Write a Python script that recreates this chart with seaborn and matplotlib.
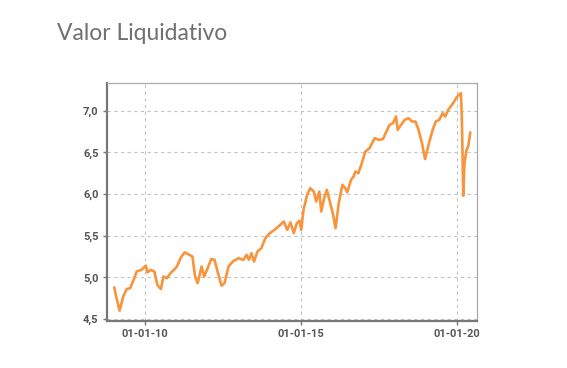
"""
plot.py — Valor liquidativo de un fondo (serie diaria aproximada).
"""

import pandas as pd
import matplotlib
matplotlib.use("Agg")
import matplotlib.pyplot as plt
import matplotlib.dates as mdates
import matplotlib.ticker as mticker
import seaborn as sns

TITLE = "Valor Liquidativo"

DATES = [
    "2009-01-05", "2009-02-01", "2009-03-09", "2009-04-20", "2009-06-01", "2009-07-10",
    "2009-08-20", "2009-09-25", "2009-11-20", "2010-01-10", "2010-01-28", "2010-03-10",
    "2010-04-20", "2010-05-25", "2010-07-05", "2010-08-05", "2010-09-15", "2010-10-25",
    "2010-12-05", "2011-01-10", "2011-02-20", "2011-04-10", "2011-06-05", "2011-07-10",
    "2011-08-10", "2011-09-10", "2011-10-25", "2011-11-25", "2012-01-05", "2012-02-15",
    "2012-03-25", "2012-05-05", "2012-06-15", "2012-07-20", "2012-09-05", "2012-10-25",
    "2013-01-01", "2013-02-25", "2013-04-05", "2013-05-01", "2013-06-01", "2013-07-01",
    "2013-08-10", "2013-09-25", "2013-11-10", "2014-01-01", "2014-02-25", "2014-05-05",
    "2014-06-15", "2014-07-25", "2014-09-01", "2014-10-10", "2014-11-15", "2014-12-15",
    "2015-01-05", "2015-02-01", "2015-03-15", "2015-04-20", "2015-06-01", "2015-06-30",
    "2015-08-05", "2015-08-28", "2015-10-01", "2015-11-01", "2015-12-01", "2016-01-10",
    "2016-02-11", "2016-03-20", "2016-05-01", "2016-06-05", "2016-06-27", "2016-08-10",
    "2016-09-10", "2016-10-01", "2016-11-05", "2016-12-15", "2017-01-25", "2017-03-15",
    "2017-05-15", "2017-07-05", "2017-08-20", "2017-09-20", "2017-11-05", "2017-12-15",
    "2018-01-20", "2018-02-08", "2018-03-20", "2018-05-01", "2018-06-15", "2018-07-25",
    "2018-09-05", "2018-10-10", "2018-11-20", "2018-12-26", "2019-02-10", "2019-03-25",
    "2019-05-01", "2019-06-10", "2019-07-20", "2019-08-20", "2019-09-24", "2019-11-20",
    "2019-12-25", "2020-01-25", "2020-02-19", "2020-03-01", "2020-03-18", "2020-04-01",
    "2020-04-25", "2020-05-15", "2020-06-08",
]

VALUES = [
    4.88, 4.75, 4.60, 4.77, 4.86, 4.87,
    4.97, 5.07, 5.09, 5.14, 5.06, 5.09,
    5.07, 4.91, 4.86, 5.01, 4.99, 5.05,
    5.09, 5.13, 5.23, 5.30, 5.27, 5.25,
    5.01, 4.93, 5.13, 5.01, 5.11, 5.22,
    5.21, 5.05, 4.90, 4.93, 5.13, 5.19,
    5.23, 5.21, 5.27, 5.21, 5.29, 5.19,
    5.31, 5.35, 5.47, 5.53, 5.57, 5.63,
    5.67, 5.57, 5.66, 5.53, 5.65, 5.68,
    5.57, 5.81, 5.99, 6.07, 6.03, 5.91,
    6.03, 5.79, 5.95, 6.05, 5.93, 5.77,
    5.59, 5.89, 6.11, 6.07, 6.02, 6.17,
    6.21, 6.27, 6.25, 6.37, 6.51, 6.55,
    6.67, 6.65, 6.66, 6.73, 6.83, 6.85,
    6.93, 6.77, 6.83, 6.89, 6.91, 6.87,
    6.87, 6.77, 6.61, 6.42, 6.61, 6.77,
    6.87, 6.89, 6.97, 6.93, 7.01, 7.09,
    7.15, 7.19, 7.21, 6.93, 5.98, 6.37,
    6.53, 6.57, 6.74,
]

Y_TICKS = [4.5, 5.0, 5.5, 6.0, 6.5, 7.0]
X_LIMITS = ("2008-10-12", "2020-08-22")
Y_LIMITS = (4.476, 7.336)

LINE_COLOR = "#f7943c"
TEXT_COLOR = "#555555"


def make_chart() -> None:
    df = pd.DataFrame({"fecha": pd.to_datetime(DATES), "valor": VALUES})

    sns.set_theme(style="white")
    plt.rcParams["font.family"] = ["Roboto", "DejaVu Sans"]

    fig = plt.figure(figsize=(5.67, 3.68), dpi=100)
    ax = fig.add_axes([0.1887, 0.1277, 0.652, 0.6476])

    sns.lineplot(data=df, x="fecha", y="valor", ax=ax, color=LINE_COLOR, linewidth=1.9)

    ax.set_xlim(pd.Timestamp(X_LIMITS[0]), pd.Timestamp(X_LIMITS[1]))
    ax.set_ylim(*Y_LIMITS)
    ax.set(xlabel="", ylabel="")

    ax.xaxis.set_major_locator(mdates.YearLocator(base=5))
    ax.xaxis.set_major_formatter(mdates.DateFormatter("%d-%m-%y"))
    ax.yaxis.set_major_locator(mticker.FixedLocator(Y_TICKS))
    ax.yaxis.set_major_formatter(mticker.FuncFormatter(lambda v, _: f"{v:.1f}".replace(".", ",")))

    ax.grid(True, color="#c4c4c4", linestyle=(0, (3, 3)), linewidth=0.8)
    ax.tick_params(axis="both", length=3, width=1, color="#777777", labelcolor=TEXT_COLOR,
                   labelsize=8, pad=3, bottom=True, left=True)
    for lab in ax.get_xticklabels() + ax.get_yticklabels():
        lab.set_fontweight("bold")

    for side in ("left", "bottom"):
        ax.spines[side].set_color("#777777")
        ax.spines[side].set_linewidth(1.6)
    for side in ("top", "right"):
        ax.spines[side].set_color("#aaaaaa")
        ax.spines[side].set_linewidth(0.9)

    fig.text(57 / 567, 1 - 33 / 368, TITLE, fontsize=16.5, color="#707070",
             family=["Lato", "DejaVu Sans"], fontweight="normal", va="center", ha="left")

    fig.savefig("out.png", dpi=100)
    plt.close(fig)


if __name__ == "__main__":
    make_chart()
